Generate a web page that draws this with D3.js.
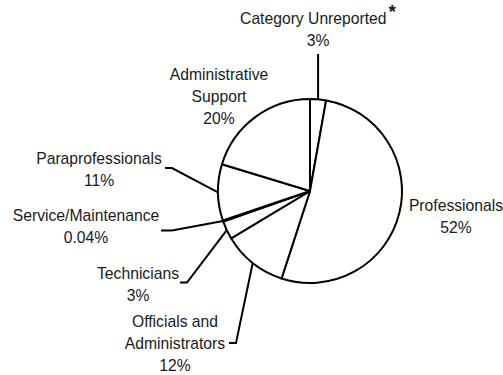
<!DOCTYPE html>
<html>
<head>
<meta charset="utf-8">
<script src="https://cdn.jsdelivr.net/npm/d3@7"></script>
<style>
  html, body { margin: 0; padding: 0; background: #fff; }
  text { font-family: "Liberation Sans", Arial, sans-serif; font-size: 15.7px; fill: #1a1a1a; }
</style>
</head>
<body>
<div id="graphic"></div>
<script>
// data, clockwise from 12 o'clock
var categories = ["Category Unreported", "Professionals", "Officials and Administrators",
    "Technicians", "Service/Maintenance", "Paraprofessionals", "Administrative Support"];
// slice sizes as drawn (percent of circle)
var shares = [2.8, 52.2, 11.4, 3.2, 0.2, 9.9, 20.3];
// percentages as printed on the labels
var pctLabels = ["3%", "52%", "12%", "3%", "0.04%", "11%", "20%"];

var width = 503, height = 375;
var cx = 310, cy = 191, radius = 92;
var lineH = 22;

// label layout: text lines, anchor point and leader elbow/end
var layout = [
    { x: 318, y: 24, lines: ["Category Unreported"], star: true, end: [null, 54] },
    { x: 456, y: 211, lines: ["Professionals"] },
    { x: 175, y: 327, lines: ["Officials and", "Administrators"], elbow: [236, 343], end: [229, 343] },
    { x: 138, y: 279, lines: ["Technicians"], elbow: [187, 282.5], end: [180, 282.5] },
    { x: 86, y: 221, lines: ["Service/Maintenance"], elbow: [172, 230.5], end: [161, 230.5] },
    { x: 99, y: 164, lines: ["Paraprofessionals"], elbow: [172, 168], end: [165, 168] },
    { x: 219, y: 80, lines: ["Administrative", "Support"] }
];

var svg = d3.select("#graphic").append("svg")
    .attr("width", width)
    .attr("height", height);

var g = svg.append("g").attr("transform", "translate(" + cx + "," + cy + ")");

var pie = d3.pie().sort(null).value(function(d) { return d; });
var arcs = pie(shares);

var arc = d3.arc().innerRadius(0).outerRadius(radius);
var rim = d3.arc().innerRadius(radius).outerRadius(radius);

g.selectAll("path.slice")
    .data(arcs)
    .enter().append("path")
        .attr("class", "slice")
        .attr("d", arc)
        .attr("fill", "#fff")
        .attr("stroke", "#000")
        .attr("stroke-width", 2)
        .attr("stroke-linejoin", "round");

//leader lines
var lineGen = d3.line();
arcs.forEach(function(d, i) {
    var L = layout[i];
    if (!L.end) return;
    var c = rim.centroid(d);
    var a = [cx + c[0], cy + c[1]];
    var pts = [a];
    if (L.elbow) pts.push(L.elbow);
    pts.push([L.end[0] === null ? a[0] : L.end[0], L.end[1]]);
    svg.append("path")
        .attr("d", lineGen(pts))
        .attr("fill", "none")
        .attr("stroke", "#000")
        .attr("stroke-width", 2);
});

//labels
layout.forEach(function(L, i) {
    var rows = L.lines.concat([pctLabels[i]]);
    rows.forEach(function(t, k) {
        var txt = svg.append("text")
            .attr("x", L.x)
            .attr("y", L.y + k * lineH)
            .attr("text-anchor", "middle");
        txt.append("tspan").text(t);
        if (L.star && k === 0) {
            txt.append("tspan")
                .attr("dx", 2)
                .attr("dy", -6)
                .style("font-size", "19px")
                .style("font-weight", "bold")
                .text("*");
        }
    });
});
</script>
</body>
</html>
